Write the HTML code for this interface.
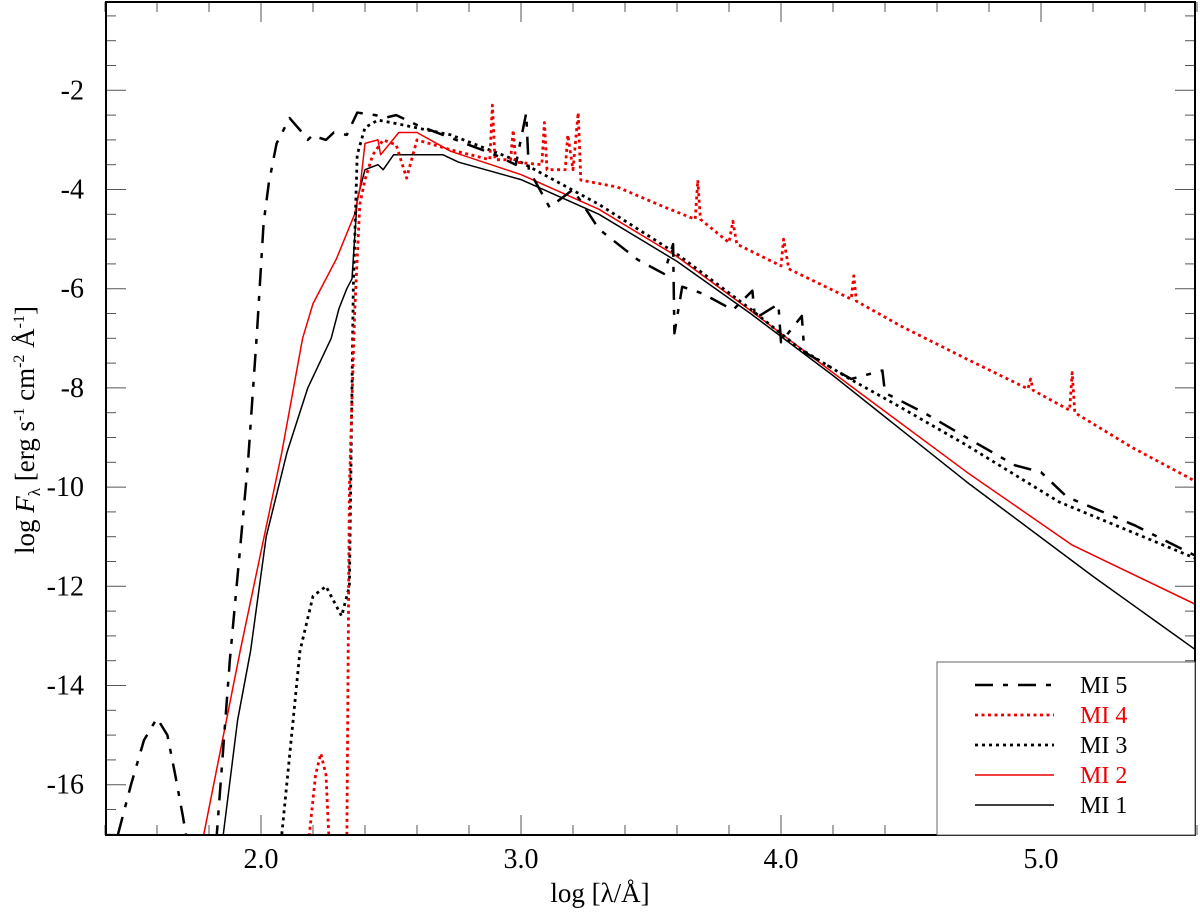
<!DOCTYPE html>
<html><head><meta charset="utf-8"><style>
body{margin:0;background:#fff;}
svg text{font-family:"Liberation Serif",serif;}
</style></head><body>
<svg id="chart" width="1200" height="915" viewBox="0 0 1200 915" xmlns="http://www.w3.org/2000/svg">
<defs><clipPath id="plotclip"><rect x="106" y="2" width="1089" height="833"/></clipPath></defs>
<rect x="0" y="0" width="1200" height="915" fill="#fff"/>
<g id="ticks"></g>
<g id="series" clip-path="url(#plotclip)"></g>
<rect x="106" y="2" width="1089" height="833" fill="none" stroke="#000" stroke-width="2"/>
<g id="legend">
<rect x="937" y="662" width="258" height="173" fill="#fff" stroke="#666" stroke-width="1"/>
</g>
<text x="600" y="902" font-size="27" text-anchor="middle">log [λ/Å]</text>
<text transform="translate(34,430) rotate(-90)" font-size="27" text-anchor="middle">log <tspan font-style="italic">F</tspan><tspan font-size="17" dy="6">λ</tspan><tspan dy="-6"> [erg s</tspan><tspan font-size="16" dy="-10">-1</tspan><tspan dy="10"> cm</tspan><tspan font-size="16" dy="-10">-2</tspan><tspan dy="10"> Å</tspan><tspan font-size="16" dy="-10">-1</tspan><tspan dy="10">]</tspan></text>
</svg>
<script>
const xTickValues=[2,3,4,5];
const xTickLabels=["2.0","3.0","4.0","5.0"];
const yTickValues=[-2,-4,-6,-8,-10,-12,-14,-16];
const yTickLabels=["-2","-4","-6","-8","-10","-12","-14","-16"];
const seriesNames=["MI 5","MI 4","MI 3","MI 2","MI 1"];
const mi5=[[1.45,-17],[1.50,-16.0],[1.55,-15.1],[1.60,-14.66],[1.64,-15.0],[1.67,-15.8],[1.70,-16.65],[1.72,-17.3],[1.77,-18.5],[1.81,-17.6],[1.83,-17],[1.88,-13.5],[1.95,-9.5],[1.985,-6.84],[2.01,-4.68],[2.03,-3.87],[2.06,-3.07],[2.11,-2.56],[2.15,-2.8],[2.18,-3.0],[2.20,-2.9],[2.22,-2.95],[2.25,-3.0],[2.28,-2.85],[2.33,-2.9],[2.37,-2.45],[2.44,-2.5],[2.48,-2.55],[2.52,-2.5],[2.6,-2.7],[2.7,-2.9],[2.8,-3.1],[2.9,-3.3],[2.98,-3.5],[3.02,-2.46],[3.03,-3.6],[3.11,-4.36],[3.2,-4.0],[3.3,-4.8],[3.45,-5.42],[3.55,-5.7],[3.585,-5.1],[3.59,-6.9],[3.62,-5.96],[3.7,-6.1],[3.815,-6.43],[3.89,-6.04],[3.9,-6.6],[3.99,-6.31],[4.0,-7.08],[4.08,-6.55],[4.09,-7.28],[4.27,-7.82],[4.39,-7.65],[4.4,-8.1],[4.55,-8.5],[4.70,-8.96],[4.9,-9.56],[5.0,-9.7],[5.1,-10.2],[5.36,-10.77],[5.6,-11.4]];
const mi4=[[2.18,-17.3],[2.21,-15.8],[2.23,-15.37],[2.25,-15.8],[2.265,-17.5],[2.30,-19],[2.33,-17.2],[2.34,-10],[2.36,-6.5],[2.38,-4.3],[2.40,-3.8],[2.43,-3.3],[2.47,-3.0],[2.52,-3.1],[2.56,-3.77],[2.6,-3.0],[2.73,-3.2],[2.88,-3.4],[2.89,-2.3],[2.90,-3.4],[2.96,-3.4],[2.97,-2.8],[2.98,-3.45],[3.08,-3.5],[3.09,-2.65],[3.10,-3.6],[3.17,-3.6],[3.18,-2.9],[3.2,-3.6],[3.22,-2.45],[3.23,-3.81],[3.37,-3.95],[3.55,-4.35],[3.67,-4.6],[3.68,-3.81],[3.69,-4.6],[3.80,-5.07],[3.815,-4.64],[3.83,-5.1],[4.0,-5.54],[4.01,-5.0],[4.03,-5.6],[4.27,-6.21],[4.28,-5.74],[4.29,-6.25],[4.46,-6.75],[4.715,-7.42],[4.95,-8.02],[4.96,-7.82],[4.97,-8.05],[5.11,-8.45],[5.12,-7.69],[5.13,-8.5],[5.35,-9.2],[5.6,-9.9]];
const mi3=[[2.08,-17],[2.15,-13.3],[2.2,-12.2],[2.25,-12.0],[2.28,-12.3],[2.31,-12.6],[2.34,-12.0],[2.355,-6],[2.37,-3.3],[2.40,-2.75],[2.45,-2.6],[2.5,-2.65],[2.73,-2.9],[3.0,-3.45],[3.3,-4.3],[3.6,-5.3],[3.88,-6.4],[4.07,-7.2],[4.265,-7.82],[4.45,-8.36],[4.715,-9.16],[5.07,-10.3],[5.6,-11.45]];
const mi2=[[1.78,-17],[1.92,-13.3],[2.0,-11.3],[2.08,-9.3],[2.16,-7.0],[2.2,-6.3],[2.29,-5.4],[2.36,-4.5],[2.38,-4.0],[2.40,-3.07],[2.45,-3.0],[2.46,-3.3],[2.53,-2.85],[2.6,-2.85],[2.73,-3.23],[3.0,-3.7],[3.3,-4.4],[3.6,-5.35],[3.88,-6.43],[4.265,-7.95],[4.715,-9.70],[5.12,-11.17],[5.6,-12.38]];
const mi1=[[1.855,-17],[1.91,-14.7],[1.96,-13.3],[2.02,-11],[2.1,-9.3],[2.18,-8.0],[2.27,-7.0],[2.30,-6.4],[2.33,-6.0],[2.35,-5.8],[2.37,-4.2],[2.40,-3.6],[2.45,-3.5],[2.47,-3.6],[2.51,-3.3],[2.7,-3.3],[2.76,-3.45],[3.0,-3.8],[3.3,-4.5],[3.6,-5.45],[3.88,-6.49],[4.2,-7.75],[4.715,-9.9],[5.2,-11.8],[5.6,-13.3]];

const NS="http://www.w3.org/2000/svg";
function X(v){return 261+(v-2)*260;}
function Y(v){return 90.3+(-2-v)*49.6;}
function mk(tag,attrs,parent){const e=document.createElementNS(NS,tag);for(const k in attrs)e.setAttribute(k,attrs[k]);parent.appendChild(e);return e;}
const tg=document.getElementById('ticks');
for(let i=0;i<=21;i++){const v=1.4+i*0.2;const x=X(v);const major=Math.abs(v-Math.round(v))<1e-6;const L=major?20:10;
 const t1=mk('line',{x1:x,x2:x,y1:835,y2:835-L,stroke:'#555','stroke-width':1},tg);
 
 
 const t2=mk('line',{x1:x,x2:x,y1:2,y2:2+L,stroke:'#555','stroke-width':1},tg);
 
 }
for(let i=0;i<=34;i++){const v=-17+i*0.5;const y=Y(v);if(y<3)continue;const major=Math.abs(v/2-Math.round(v/2))<1e-6;const L=major?20:10;
 const t1=mk('line',{x1:106,x2:106+L,y1:y,y2:y,stroke:'#555','stroke-width':1},tg);
 
 
 const t2=mk('line',{x1:1195,x2:1195-L,y1:y,y2:y,stroke:'#555','stroke-width':1},tg);
 
 }
const svg=document.getElementById('chart');
xTickValues.forEach((v,i)=>{const t=mk('text',{x:X(v),y:868,'font-size':28,'text-anchor':'middle'},svg);t.textContent=xTickLabels[i];
 
 });
yTickValues.forEach((v,i)=>{const t=mk('text',{x:84,y:Y(v)+9,'font-size':28,'text-anchor':'end'},svg);t.textContent=yTickLabels[i];
 
 });
const styles=[
 {d:mi5,c:'#000',w:2.5,dash:'18 10 5 10',name:'series-mi5'},
 {d:mi4,c:'#e00',w:2.8,dash:'3 3.5',name:'series-mi4'},
 {d:mi3,c:'#000',w:2.8,dash:'3 4',name:'series-mi3'},
 {d:mi2,c:'#e00',w:1.5,dash:'',name:'series-mi2'},
 {d:mi1,c:'#000',w:1.5,dash:'',name:'series-mi1'}];
const sg=document.getElementById('series');
for(let k=styles.length-1;k>=0;k--){const s=styles[k];
 const p=mk('path',{d:'M'+s.d.map(q=>X(q[0]).toFixed(1)+','+Y(q[1]).toFixed(1)).join('L'),fill:'none',stroke:s.c,'stroke-width':s.w,'stroke-dasharray':s.dash,'stroke-linejoin':'round'},sg);
 
 }
const lg=document.getElementById('legend');
styles.forEach((s,i)=>{const y=685+i*30;
 const l=mk('line',{x1:975,x2:1054,y1:y,y2:y,stroke:s.c,'stroke-width':s.w,'stroke-dasharray':s.dash},lg);
 
 
 const t=mk('text',{x:1080,y:y+8,'font-size':24,fill:s.c==='#e00'?'#e00':'#000'},lg);t.textContent=seriesNames[i];
 
 });
</script>
</body></html>
